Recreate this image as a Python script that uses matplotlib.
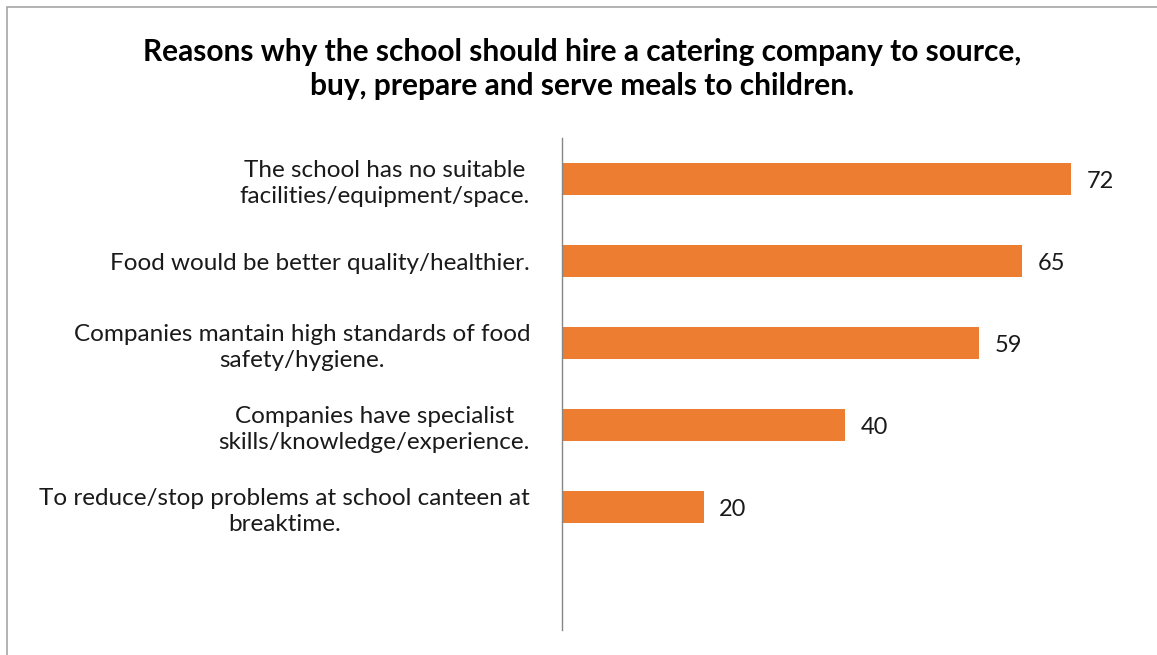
import matplotlib.pyplot as plt
from matplotlib.patches import Rectangle

plt.rcParams["font.family"] = ["Lato", "DejaVu Sans"]

reasons = [
    "The school has no suitable\nfacilities/equipment/space.",
    "Food would be better quality/healthier.",
    "Companies mantain high standards of food\nsafety/hygiene.",
    "Companies have specialist\nskills/knowledge/experience.",
    "To reduce/stop problems at school canteen at\nbreaktime.",
]
counts = [72, 65, 59, 40, 20]

bar_color = "#ED7D31"

fig = plt.figure(figsize=(11.57, 6.55), dpi=100, facecolor="white")
ax = fig.add_axes([562 / 1157, 1 - 630 / 655, 566 / 1157, 492 / 655])

# six category slots, the last one left empty like the Excel original
pos = list(range(len(reasons)))
ax.barh(pos, counts, height=0.4, color=bar_color)
ax.set_ylim(len(reasons) + 0.5, -0.5)
ax.set_xlim(0, 80)

for y, v in zip(pos, counts):
    ax.text(v + 2.2, y + 0.03, str(v), va="center", ha="left",
            fontsize=17, color="#1a1a1a")

ax.set_yticks(pos)
ax.set_yticklabels(reasons, fontsize=17.5, color="#1a1a1a",
                   ha="right", multialignment="center", linespacing=1.3)
ax.tick_params(axis="y", length=0, pad=23)
ax.set_xticks([])

for side in ["top", "right", "bottom"]:
    ax.spines[side].set_visible(False)
ax.spines["left"].set_color("#868686")
ax.spines["left"].set_linewidth(1.0)

fig.text(0.503, 1 - 69 / 655,
         "Reasons why the school should hire a catering company to source,\n"
         "buy, prepare and serve meals to children.",
         ha="center", va="center", fontsize=21.5, weight="bold",
         linespacing=1.27, color="#000000")

# thin grey frame around the chart area
fig.patches.append(Rectangle((7 / 1157, -0.02), 1.1, 1 - 7 / 655 + 0.02,
                             transform=fig.transFigure, fill=False,
                             edgecolor="#a6a6a6", linewidth=1.2))

fig.savefig("out.png", dpi=100, facecolor="white")
